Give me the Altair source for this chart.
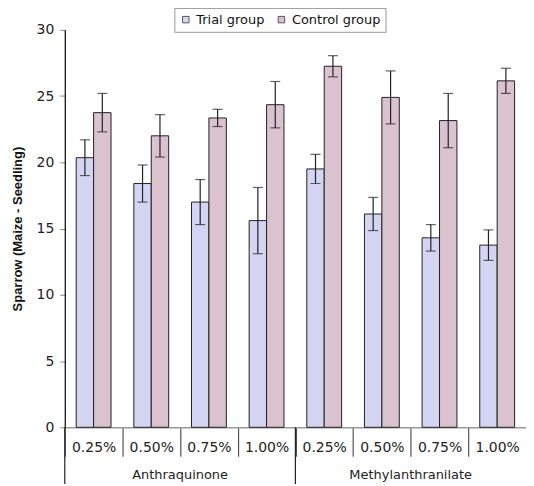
import altair as alt
import pandas as pd

groups = ["Anthraquinone", "Methylanthranilate"]
concs = ["0.25%", "0.50%", "0.75%", "1.00%"]
series = ["Trial group", "Control group"]

trial_vals = [20.35, 18.4, 17.0, 15.6, 19.5, 16.1, 14.3, 13.75]
trial_err = [1.35, 1.4, 1.7, 2.5, 1.1, 1.25, 1.0, 1.15]
control_vals = [23.75, 22.0, 23.35, 24.35, 27.25, 24.9, 23.15, 26.15]
control_err = [1.45, 1.6, 0.65, 1.75, 0.8, 2.0, 2.05, 0.95]

cats = [f"{g[0]}|{c}" for g in groups for c in concs]

rows = []
for i, cat in enumerate(cats):
    rows.append({"cat": cat, "series": series[0], "value": trial_vals[i], "err": trial_err[i]})
    rows.append({"cat": cat, "series": series[1], "value": control_vals[i], "err": control_err[i]})
df = pd.DataFrame(rows)

grp_df = pd.DataFrame({"label": groups, "cat": [f"{g[0]}|0.75%" for g in groups]})
sep_df = pd.DataFrame({"cat": [f"{g[0]}|0.25%" for g in groups]})

FONT = "DejaVu Sans"

xscale = alt.Scale(domain=cats, paddingInner=0, paddingOuter=0)
xoff_scale = alt.Scale(domain=series, paddingInner=0, paddingOuter=0.655)

base = alt.Chart(df)

bars = base.mark_bar(stroke="#222", strokeWidth=1).encode(
    x=alt.X("cat:N", scale=xscale, sort=cats,
            axis=alt.Axis(title=None, labelExpr="split(datum.label, '|')[1]",
                          labelAngle=0, labelFont=FONT, labelFontSize=14, labelColor="#222",
                          tickBand="extent", tickSize=29, tickColor="#333", tickWidth=1,
                          domainColor="#999", domainWidth=1.5, labelPadding=-16,
                          labelBaseline="top")),
    xOffset=alt.XOffset("series:N", scale=xoff_scale, sort=series),
    y=alt.Y("value:Q", scale=alt.Scale(domain=[0, 30], nice=False),
            axis=alt.Axis(title="Sparrow (Maize - Seedling)", values=[0, 5, 10, 15, 20, 25, 30],
                          grid=False, domainColor="#000", domainWidth=1.2,
                          tickColor="#888", tickSize=5, labelFont=FONT, labelFontSize=14,
                          labelColor="#222", labelPadding=6,
                          titleFont="Liberation Sans", titleFontSize=13, titleFontWeight="bold",
                          titleColor="#111", titlePadding=12)),
    fill=alt.Fill("series:N", scale=alt.Scale(domain=series, range=["#d4d5f2", "#dac3ce"]),
                  legend=alt.Legend(title=None, orient="none", legendX=110, legendY=-22,
                                    direction="horizontal", strokeColor="#999", padding=5,
                                    symbolType="square", symbolSize=42,
                                    symbolStrokeColor="#333", symbolStrokeWidth=0.8,
                                    labelFont=FONT, labelFontSize=13, labelColor="#111",
                                    columnPadding=10, symbolOffset=0)),
)

err_rule = base.transform_calculate(lo="datum.value - datum.err", hi="datum.value + datum.err").mark_rule(
    color="#222", strokeWidth=1.2).encode(
    x=alt.X("cat:N", scale=xscale, sort=cats),
    xOffset=alt.XOffset("series:N", scale=xoff_scale, sort=series),
    y="lo:Q", y2="hi:Q")

cap_lo = base.transform_calculate(lo="datum.value - datum.err").mark_tick(
    color="#222", thickness=1.2, size=10, orient="horizontal").encode(
    x=alt.X("cat:N", scale=xscale, sort=cats),
    xOffset=alt.XOffset("series:N", scale=xoff_scale, sort=series),
    y="lo:Q")
cap_hi = base.transform_calculate(hi="datum.value + datum.err").mark_tick(
    color="#222", thickness=1.2, size=10, orient="horizontal").encode(
    x=alt.X("cat:N", scale=xscale, sort=cats),
    xOffset=alt.XOffset("series:N", scale=xoff_scale, sort=series),
    y="hi:Q")

grp_text = alt.Chart(grp_df).mark_text(font=FONT, fontSize=13, color="#222", baseline="middle").encode(
    x=alt.X("cat:N", scale=xscale, sort=cats, bandPosition=0),
    y=alt.value(447), text="label:N")

seps = alt.Chart(sep_df).mark_rule(color="#222", strokeWidth=1.2).encode(
    x=alt.X("cat:N", scale=xscale, sort=cats, bandPosition=0),
    y=alt.value(399), y2=alt.value(456))

chart = alt.layer(bars, err_rule, cap_lo, cap_hi, grp_text, seps).properties(
    width=463, height=399,
    autosize=alt.AutoSizeParams(type="none"),
    padding={"left": 57, "top": 21, "right": 0, "bottom": 57},
).configure_view(stroke=None).configure_axis(labelFlush=False)

chart.save("out.html", embed_options={"renderer": "svg", "actions": False})
